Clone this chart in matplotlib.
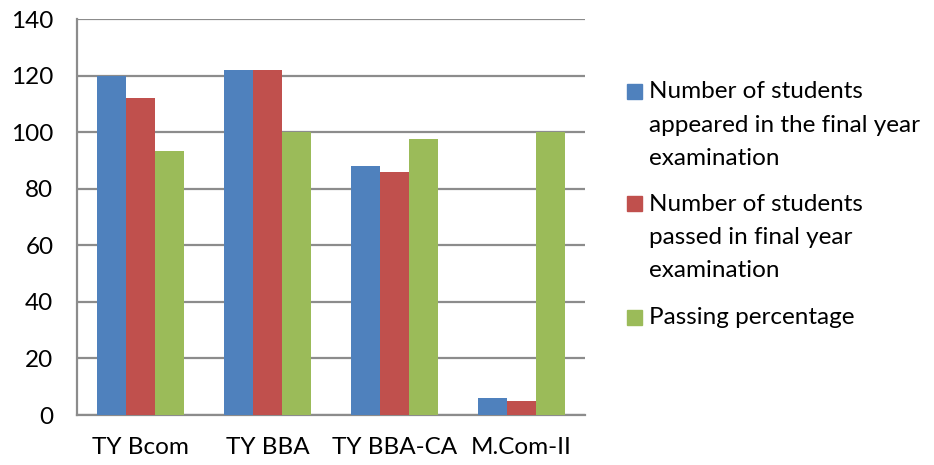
import matplotlib.pyplot as plt
import numpy as np
from matplotlib.patches import Rectangle

categories = ["TY Bcom", "TY BBA", "TY BBA-CA", "M.Com-II"]
appeared = [120, 122, 88, 6]
passed = [112, 122, 86, 5]
pass_pct = [93.3, 100, 97.7, 100]

series_labels = [
    ["Number of students", "appeared in the final year", "examination"],
    ["Number of students", "passed in final year", "examination"],
    ["Passing percentage"],
]
colors = ["#4F81BD", "#C0504D", "#9BBB59"]

W, H = 934, 465
plt.rcParams["font.family"] = ["Lato", "DejaVu Sans"]
FS = 17.5

fig = plt.figure(figsize=(W / 100, H / 100), dpi=100)
ax = fig.add_axes([77 / W, 1 - 415 / H, (585 - 77) / W, (415 - 19) / H])

x = np.arange(len(categories))
width = 0.226
for i, vals in enumerate([appeared, passed, pass_pct]):
    ax.bar(x + (i - 1) * width, vals, width, color=colors[i], zorder=3)

ax.set_xlim(-0.5, len(categories) - 0.5)
ax.set_ylim(0, 140)
ax.set_yticks(range(0, 141, 20))
ax.set_xticks(x)
ax.set_xticklabels(categories)
ax.tick_params(axis="both", length=0, labelsize=FS, colors="black")
ax.tick_params(axis="y", pad=17)
ax.tick_params(axis="x", pad=16)
ax.grid(axis="y", color="#8C8C8C", linewidth=1.6, zorder=0)
for side in ["top", "right"]:
    ax.spines[side].set_visible(False)
for side in ["left", "bottom"]:
    ax.spines[side].set_color("#8C8C8C")
    ax.spines[side].set_linewidth(1.6)

# legend, drawn by hand so the square sits on the first text line
entry_tops = [92, 204, 317]
line_gap = 33
for color, lines, y0 in zip(colors, series_labels, entry_tops):
    fig.add_artist(Rectangle((627 / W, 1 - (y0 + 7.5) / H), 15 / W, 15 / H,
                             transform=fig.transFigure, color=color))
    for k, line in enumerate(lines):
        fig.text(649 / W, 1 - (y0 + k * line_gap) / H, line, fontsize=FS,
                 va="center", ha="left")

fig.savefig("out.png", dpi=100)
